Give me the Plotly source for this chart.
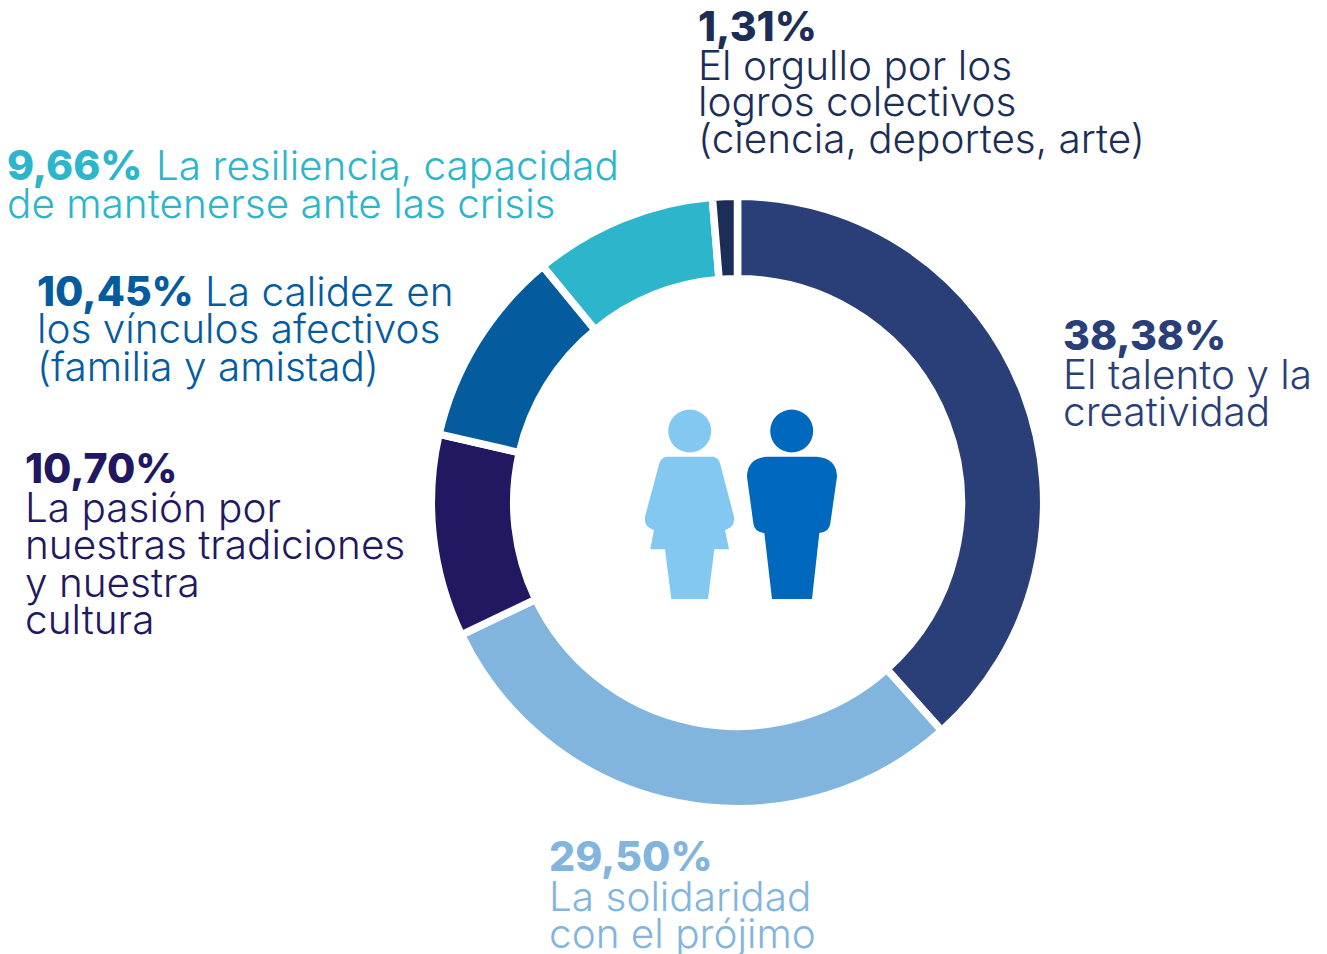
import plotly.graph_objects as go

W, H = 1327, 954

categories = ["El talento y la creatividad", "La solidaridad con el prójimo",
              "La pasión por nuestras tradiciones y nuestra cultura",
              "La calidez en los vínculos afectivos (familia y amistad)",
              "La resiliencia, capacidad de mantenerse ante las crisis",
              "El orgullo por los logros colectivos (ciencia, deportes, arte)"]
values = [38.38, 29.50, 10.70, 10.45, 9.66, 1.31]
colors = ["#2a3f77", "#82b5de", "#221761", "#045c9f", "#2db5cb", "#1c2e57"]
pct_labels = ["38,38%", "29,50%", "10,70%", "10,45%", "9,66%", "1,31%"]
label_lines = [
    ["El talento y la", "creatividad"],
    ["La solidaridad", "con el prójimo"],
    ["La pasión por", "nuestras tradiciones", "y nuestra", "cultura"],
    ["los vínculos afectivos", "(familia y amistad)"],
    ["de mantenerse ante las crisis"],
    ["El orgullo por los", "logros colectivos", "(ciencia, deportes, arte)"],
]
inline_after_pct = ["", "", "", "La calidez en", "La resiliencia, capacidad", ""]
inline_x = [0, 0, 0, 205, 156, 0]
label_x = [1063, 549, 25, 37, 7, 698]
label_y = [
    [335, 374, 411],
    [856, 896, 933],
    [468, 507, 544, 582, 619],
    [291, 329, 366],
    [165, 204],
    [26, 65, 102, 139],
]

FONT = "Inter"
SIZE_B = 41
SIZE_R = 40.5
CX, CY, R = 737.5, 502.5, 306.2
LINE_W = 7.5
HOLE = 223.8 / R

fig = go.Figure(go.Pie(
    labels=categories, values=values, sort=False, direction="clockwise", rotation=0,
    hole=HOLE, textinfo="none", hoverinfo="label+value", showlegend=False,
    marker=dict(colors=colors, line=dict(color="white", width=LINE_W)),
    domain=dict(x=[(CX - R) / W, (CX + R) / W], y=[1 - (CY + R) / H, 1 - (CY - R) / H]),
))

annotations = []
def add_text(x, y, text, color, size=SIZE_R, weight=300):
    annotations.append(dict(x=x / W, y=1 - y / H, xref="paper", yref="paper", xanchor="left",
                            yanchor="middle", showarrow=False, align="left", text=text,
                            borderpad=0, borderwidth=0,
                            font=dict(family=FONT, size=size, color=color, weight=weight)))

for pct, inline, ix, lines, x, ys, color in zip(pct_labels, inline_after_pct, inline_x, label_lines, label_x, label_y, colors):
    add_text(x, ys[0], pct, color, size=SIZE_B, weight=800)
    if inline:
        add_text(ix, ys[0] + 0.5, inline, color)
    for line, y in zip(lines, ys[1:]):
        add_text(x, y, line, color)

def path(cmds):
    """Icon outline given in pixel coordinates -> paper coordinates."""
    out = []
    for c in cmds:
        if c == "Z":
            out.append("Z")
        else:
            letter, pts = c[0], c[1:]
            out.append(letter + " ".join(f"{px / W:.5f},{1 - py / H:.5f}" for px, py in pts))
    return " ".join(out)

def z(px, py):
    return (630 + px / 3, 395 + py / 3)

woman_cmds = [
    ("M", z(110, 185)), ("L", z(250, 185)), ("Q", z(265, 187), z(270, 205)), ("L", z(312, 365)),
    ("Q", z(316, 398), z(285, 405)), ("L", z(297, 463)), ("L", z(253, 463)), ("L", z(234, 612)),
    ("L", z(124, 612)), ("L", z(105, 463)), ("L", z(61, 463)), ("L", z(72, 405)),
    ("Q", z(41, 398), z(45, 365)), ("L", z(88, 205)), ("Q", z(93, 187), z(110, 185)), "Z",
]
man_cmds = [
    ("M", z(410, 185)), ("L", z(560, 185)), ("Q", z(620, 190), z(621, 245)), ("L", z(601, 385)),
    ("Q", z(598, 412), z(568, 414)), ("L", z(546, 612)), ("L", z(426, 612)), ("L", z(403, 414)),
    ("Q", z(373, 412), z(370, 385)), ("L", z(351, 245)), ("Q", z(352, 190), z(410, 185)), "Z",
]
WOMAN_C, MAN_C = "#82c8f0", "#0069bd"
shapes = []
for cmds, col in ((woman_cmds, WOMAN_C), (man_cmds, MAN_C)):
    shapes.append(dict(type="path", xref="paper", yref="paper", path=path(cmds),
                       fillcolor=col, line=dict(width=0)))
for hx, col in ((689.7, WOMAN_C), (791.7, MAN_C)):
    r = 21.5
    shapes.append(dict(type="circle", xref="paper", yref="paper",
                       x0=(hx - r) / W, x1=(hx + r) / W, y0=1 - (431 + r) / H, y1=1 - (431 - r) / H,
                       fillcolor=col, line=dict(width=0)))

fig.update_layout(width=W, height=H, margin=dict(l=0, r=0, t=0, b=0),
                  paper_bgcolor="white", plot_bgcolor="white",
                  annotations=annotations, shapes=shapes)
fig.write_html("out.html", config=dict(displayModeBar=False),
               post_script="document.body.style.margin='0';")
